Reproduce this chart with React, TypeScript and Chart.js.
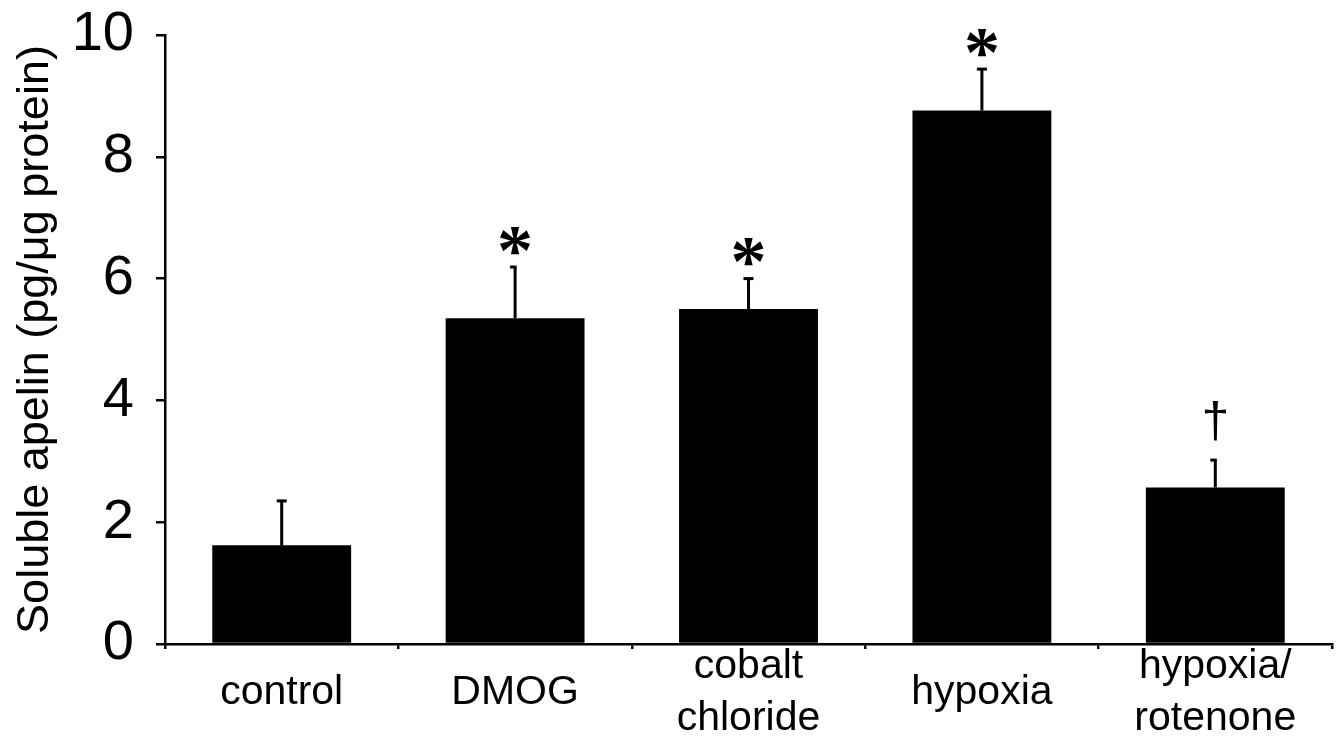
import React, { useEffect, useRef } from "react";
import { Chart, registerables } from "chart.js";

Chart.register(...registerables);

const categories: string[][] = [
  ["control"],
  ["DMOG"],
  ["cobalt", "chloride"],
  ["hypoxia"],
  ["hypoxia/", "rotenone"],
];
const means: number[] = [1.62, 5.35, 5.5, 8.76, 2.57];
const sem: number[] = [0.73, 0.84, 0.5, 0.68, 0.45];
const marks: string[] = ["", "*", "*", "*", "\u2020"];
const yTicks: number[] = [0, 2, 4, 6, 8, 10];
const yTitle = "Soluble apelin (pg/\u03bcg protein)";

const capSide: string[] = ["both", "left", "both", "both", "left"];

const FONT = "'Liberation Sans', Arial, sans-serif";

const errorPlugin = {
  id: "errorBarsAndMarks",
  afterDatasetsDraw(chart: any) {
    const ctx = chart.ctx;
    const meta = chart.getDatasetMeta(0);
    const yScale = chart.scales.y;
    ctx.save();
    meta.data.forEach((el: any, i: number) => {
      const x = el.x;
      const yBar = el.y;
      const yErr = yScale.getPixelForValue(means[i] + sem[i]);
      ctx.strokeStyle = "#000";
      ctx.lineWidth = 3;
      ctx.beginPath();
      ctx.moveTo(x, yBar);
      ctx.lineTo(x, yErr);
      ctx.stroke();
      ctx.beginPath();
      const left = x - 5;
      const right = capSide[i] === "left" ? x + 1.5 : x + 5;
      ctx.moveTo(left, yErr);
      ctx.lineTo(right, yErr);
      ctx.stroke();
      const m = marks[i];
      if (m) {
        ctx.fillStyle = "#000";
        ctx.textAlign = "center";
        ctx.textBaseline = "middle";
        if (m === "*") {
          ctx.font = "bold 72px 'Liberation Serif', 'Times New Roman', serif";
          ctx.fillText(m, x, yErr - 25 + 13);
        } else {
          ctx.font = "50px " + FONT;
          ctx.fillText(m, x, yErr - 37);
        }
      }
    });
    ctx.restore();
  },
};

export default function App() {
  const ref = useRef<HTMLCanvasElement | null>(null);
  useEffect(() => {
    if (!ref.current) return;
    const chart = new Chart(ref.current, {
      type: "bar",
      data: {
        labels: categories,
        datasets: [
          {
            data: means,
            backgroundColor: "#000",
            borderWidth: 0,
            barPercentage: 0.595,
            categoryPercentage: 1,
          },
        ],
      },
      options: {
        animation: false,
        responsive: true,
        maintainAspectRatio: false,
        layout: { padding: { left: 0, right: 12, top: 0, bottom: 0 } },
        plugins: {
          legend: { display: false },
          tooltip: { enabled: false },
        },
        scales: {
          x: {
            offset: true,
            grid: {
              offset: true,
              drawOnChartArea: false,
              drawTicks: true,
              tickLength: 5,
              color: "#000",
              lineWidth: 2.5,
            },
            border: { display: true, color: "#000", width: 2.5 },
            ticks: {
              color: "#000",
              font: { family: FONT, size: 41, lineHeight: 1.25 },
              padding: 18,
              crossAlign: "center",
              autoSkip: false,
              maxRotation: 0,
              minRotation: 0,
            },
            afterFit(scale: any) {
              scale.height = 97;
            },
          },
          y: {
            min: 0,
            max: 10,
            afterBuildTicks(scale: any) {
              scale.ticks = yTicks.map((v) => ({ value: v }));
            },
            grid: {
              drawOnChartArea: false,
              drawTicks: true,
              tickLength: 9,
              color: "#000",
              lineWidth: 2.5,
            },
            border: { display: true, color: "#000", width: 2.5 },
            ticks: {
              color: "#000",
              font: { family: FONT, size: 56 },
              padding: 22,
            },
            title: {
              display: true,
              text: yTitle,
              color: "#000",
              font: { family: FONT, size: 45 },
              padding: { top: 9, bottom: 0 },
            },
            afterFit(scale: any) {
              scale.width = 165;
              scale.paddingTop = 35;
              scale.paddingBottom = 0;
            },
          },
        },
      },
      plugins: [errorPlugin],
    });
    return () => chart.destroy();
  }, []);
  return (
    <div
      style={{
        position: "absolute",
        left: 0,
        top: 0,
        width: "1344px",
        height: "741px",
        background: "#fff",
      }}
    >
      <canvas ref={ref} />
    </div>
  );
}
